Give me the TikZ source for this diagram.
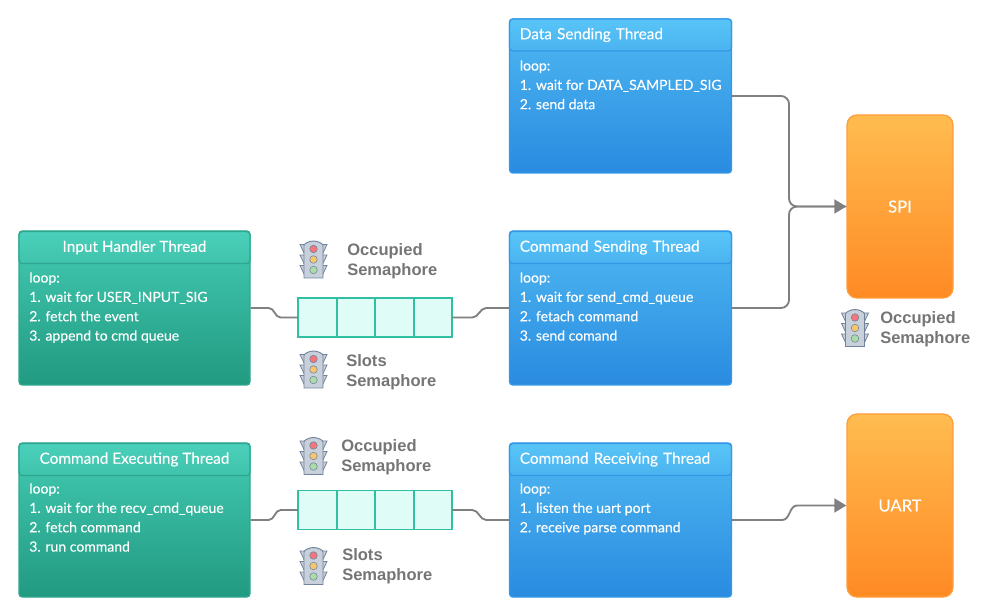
\documentclass[tikz,border=0pt]{standalone}
\usepackage{fontspec}
\setmainfont{Lato}
\newfontfamily\threadfont[FakeBold=0.12]{Lato}
\newfontfamily\labelfont{Liberation Sans}
\usetikzlibrary{arrows.meta,positioning}
\definecolor{wiregray}{HTML}{808080}
\definecolor{labelgray}{HTML}{757575}
\definecolor{lightline}{HTML}{71849B}
\definecolor{lightbody}{HTML}{C8D1DB}
\definecolor{lampred}{HTML}{F4767C}
\definecolor{lampyellow}{HTML}{F6C56E}
\definecolor{lampgreen}{HTML}{A9DCA6}
\definecolor{bluedge}{HTML}{3598E6}
\definecolor{blueA}{HTML}{4FB9F2}
\definecolor{blueB}{HTML}{2A8BE0}
\definecolor{blueC}{HTML}{58C5F7}
\definecolor{blueD}{HTML}{4BB3F0}
\definecolor{tealedge}{HTML}{2DA88F}
\definecolor{tealA}{HTML}{44CBB4}
\definecolor{tealB}{HTML}{219A80}
\definecolor{tealC}{HTML}{4AD0BB}
\definecolor{tealD}{HTML}{40C3AC}
\definecolor{orangeedge}{HTML}{FF9D3A}
\definecolor{orangeA}{HTML}{FFBC50}
\definecolor{orangeB}{HTML}{FF8A24}
\definecolor{slotedge}{HTML}{30BFA0}
\definecolor{slotfill}{HTML}{DFFDF6}
\tikzset{
  threadtext/.style={font=\threadfont\fontsize{10.5}{14.5}\selectfont,text=white},
  threadbody/.style={threadtext,anchor=north west,align=left,inner sep=0pt},
  threadbox/.style={draw,rounded corners=2.5pt,line width=1pt,minimum height=115.5pt},
  threadhead/.style={draw,rounded corners=2.5pt,line width=1pt,minimum height=24pt,
    threadtext,font=\threadfont\fontsize{11.5}{14}\selectfont},
  bluebox/.style={threadbox,draw=bluedge,top color=blueA,bottom color=blueB,minimum width=166.5pt},
  bluehead/.style={threadhead,draw=bluedge,top color=blueC,bottom color=blueD,
    minimum width=166.5pt,text width=151pt,inner xsep=7.75pt,align=left},
  tealbox/.style={threadbox,draw=tealedge,top color=tealA,bottom color=tealB,minimum width=173.25pt},
  tealhead/.style={threadhead,draw=tealedge,top color=tealC,bottom color=tealD,
    minimum width=173.25pt,align=center},
  portbox/.style={draw=orangeedge,line width=1pt,rounded corners=7.5pt,top color=orangeA,bottom color=orangeB,
    minimum width=79.5pt,minimum height=137.25pt,text=white,font=\threadfont\fontsize{12.5}{14}\selectfont},
  slotcell/.style={draw=slotedge,fill=slotfill,line width=1.2pt,minimum width=28.9pt,minimum height=29pt,inner sep=0pt,outer sep=0pt},
  wire/.style={draw=wiregray,line width=1.4pt},
  wirearrow/.style={wire,-{Triangle[length=9pt,width=10.5pt]}},
  semlabel/.style={font=\labelfont\bfseries\fontsize{12.4}{15}\selectfont,text=labelgray,anchor=west,align=left,inner sep=0pt},
  lamp/.style={line width=0.4pt},
  trafficlight/.pic={
    \foreach \dy in {-10.5,0,10.5} {
      \filldraw[lightline,fill=lightbody,line width=0.6pt] (-9,\dy-4.5) -- (-13.5,\dy-4.5) -- (-9,\dy+5) -- cycle;
      \filldraw[lightline,fill=lightbody,line width=0.6pt] (9,\dy-4.5) -- (13.5,\dy-4.5) -- (9,\dy+5) -- cycle;
    }
    \filldraw[lightline,fill=lightbody,line width=0.7pt] (-9.5,18.5) -- (-9.5,-14) .. controls (-9.5,-16) and (-4,-18.5) .. (0,-18.5)
      .. controls (4,-18.5) and (9.5,-16) .. (9.5,-14) -- (9.5,18.5) -- cycle;
    \filldraw[lamp,draw=lightline,fill=lampred] (0,-10.5) circle (3.8);
    \filldraw[lamp,draw=lightline,fill=lampyellow] (0,0) circle (3.8);
    \filldraw[lamp,draw=lightline,fill=lampgreen] (0,10.5) circle (3.8);
  }
}
\begin{document}
\begin{tikzpicture}[x=0.75pt,y=-0.75pt]
\useasboundingbox (0,0) rectangle (996,616);

\node[bluebox] (databox) at (620.5,96) {};
\node[bluebox] (sendbox) at (620.5,308) {};
\node[bluebox] (recvbox) at (620.5,520) {};
\node[tealbox] (inputbox) at (134.5,308) {};
\node[tealbox] (execbox) at (134.5,520) {};

\node[bluehead] (datahead) at (620.5,35) {Data Sending Thread};
\node[bluehead] (sendhead) at (620.5,247.5) {Command Sending Thread};
\node[bluehead] (recvhead) at (620.5,459.5) {Command Receiving Thread};
\node[tealhead] (inputhead) at (134.5,247.5) {Input Handler Thread};
\node[tealhead] (exechead) at (134.5,459.5) {Command Executing Thread};

\node[threadbody] (datatext) at (519.5,60) {loop:\\1. wait for DATA\_SAMPLED\_SIG\\2. send data};
\node[threadbody] (sendtext) at (519.5,272) {loop:\\1. wait for send\_cmd\_queue\\2. fetach command\\3. send comand};
\node[threadbody] (recvtext) at (519.5,483) {loop:\\1. listen the uart port\\2. receive parse command};
\node[threadbody] (inputtext) at (29,272) {loop:\\1. wait for USER\_INPUT\_SIG\\2. fetch the event\\3. append to cmd queue};
\node[threadbody] (exectext) at (29,483) {loop:\\1. wait for the recv\_cmd\_queue\\2. fetch command\\3. run command};

\node[portbox,text depth=-1pt] (spibox) at (900,206.5) {SPI};
\node[portbox,text depth=-1pt] (uartbox) at (900,505.5) {UART};

\foreach \i/\x in {1/317.5,2/356,3/394.5,4/433} {
  \node[slotcell] (inslot\i) at (\x,317.5) {};
  \node[slotcell] (outslot\i) at (\x,510) {};
}

\coordinate (spijoin) at (789,206.5);
\draw[wire] (inputbox.east) -- ++(18,0) to[out=0,in=180] ++(12,9.5) -- (inslot1.west);
\draw[wire] (inslot4.east) -- ++(20,0) to[out=0,in=180] ++(14,-9.5) -- (sendbox.west);
\draw[wire] (execbox.east) -- ++(18,0) to[out=0,in=180] ++(12,-10) -- (outslot1.west);
\draw[wire] (outslot4.east) -- ++(20,0) to[out=0,in=180] ++(14,10) -- (recvbox.west);
\draw[wirearrow] (recvbox.east) -- ++(50,0) to[out=0,in=180] ++(15,-14.5) -- (uartbox.west);
\draw[wire,rounded corners=6pt] (databox.east) -| (spijoin) -- (spibox.west);
\draw[wirearrow,rounded corners=6pt] (sendbox.east) -| (spijoin) -- (spibox.west);

\pic at (313.5,259.5) {trafficlight};
\pic at (313.5,369.5) {trafficlight};
\pic at (313.5,456) {trafficlight};
\pic at (313.5,566) {trafficlight};
\pic at (855,328) {trafficlight};

\node[semlabel] (inoccupied) at (347,261.5) {Occupied\\Semaphore};
\node[semlabel] (inslots) at (346,372.5) {Slots\\Semaphore};
\node[semlabel] (outoccupied) at (341,457.5) {Occupied\\Semaphore};
\node[semlabel] (outslots) at (342,566.5) {Slots\\Semaphore};
\node[semlabel] (spioccupied) at (880,329.5) {Occupied\\Semaphore};
\end{tikzpicture}
\end{document}
